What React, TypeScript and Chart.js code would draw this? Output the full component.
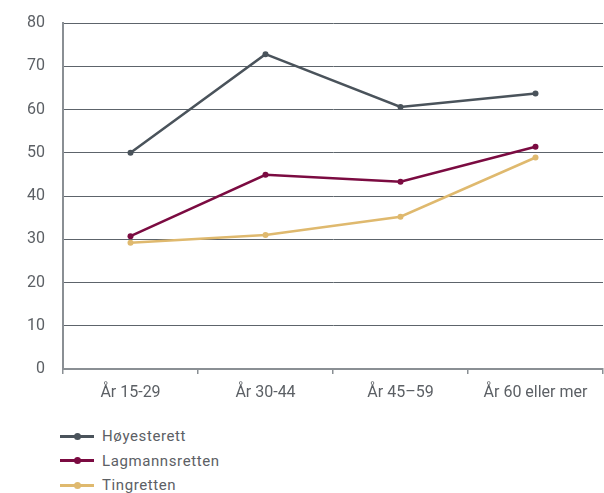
import { useEffect, useRef } from 'react';
import Chart from 'chart.js/auto';

const CATEGORIES = ['År 15-29', 'År 30-44', 'År 45–59', 'År 60 eller mer'];
const HOYESTERETT = [50, 72.8, 60.6, 63.7];
const LAGMANNSRETTEN = [30.7, 44.9, 43.3, 51.4];
const TINGRETTEN = [29.2, 31.0, 35.2, 48.9];
const Y_TICKS = [0, 10, 20, 30, 40, 50, 60, 70, 80];

const SERIES = [
  { label: 'Høyesterett', data: HOYESTERETT, color: '#4a535b' },
  { label: 'Lagmannsretten', data: LAGMANNSRETTEN, color: '#7b0b41' },
  { label: 'Tingretten', data: TINGRETTEN, color: '#dfb96e' }
];

const FONT = 'Roboto, "Noto Sans", sans-serif';
const TEXT = '#5c6065';

export default function App() {
  const canvasRef = useRef<HTMLCanvasElement | null>(null);

  useEffect(() => {
    const canvas = canvasRef.current;
    if (!canvas) return;

    const chart = new Chart(canvas, {
      type: 'line',
      data: {
        labels: CATEGORIES,
        datasets: SERIES.map(s => ({
          label: s.label,
          data: s.data,
          borderColor: s.color,
          backgroundColor: s.color,
          borderWidth: 2.5,
          pointRadius: 3,
          pointBorderWidth: 0,
          tension: 0
        }))
      },
      options: {
        animation: false,
        responsive: true,
        maintainAspectRatio: false,
        layout: { padding: { top: 23, right: 0, left: 0, bottom: 0 } },
        plugins: { legend: { display: false }, tooltip: { enabled: false } },
        scales: {
          x: {
            offset: true,
            grid: {
              offset: true,
              drawOnChartArea: false,
              drawTicks: true,
              tickLength: 5,
              color: '#8a8f94',
              lineWidth: 1.5
            },
            border: { display: true, color: '#8a8f94', width: 2 },
            ticks: { color: TEXT, font: { family: FONT, size: 16 }, padding: 9 },
            afterFit: s => {
              s.height = 41;
            }
          },
          y: {
            min: 0,
            max: 80,
            afterBuildTicks: s => {
              s.ticks = Y_TICKS.map(v => ({ value: v }));
            },
            grid: { color: '#5d646b', lineWidth: 1, drawTicks: true, tickLength: 15, tickColor: 'rgba(0,0,0,0)' },
            border: { display: true, color: '#8a8f94', width: 2 },
            ticks: { color: TEXT, font: { family: FONT, size: 16 }, padding: 3 },
            afterFit: s => {
              s.width = 63;
            }
          }
        }
      }
    });

    return () => chart.destroy();
  }, []);

  return (
    <div style={{ position: 'fixed', left: 0, top: 0, width: 604, height: 493, background: '#fff', fontFamily: FONT, overflow: 'hidden' }}>
      <div style={{ position: 'absolute', left: 0, top: 0, width: 607, height: 410 }}>
        <canvas ref={canvasRef} />
      </div>
      <div style={{ position: 'absolute', left: 60, top: 424 }}>
        {SERIES.map(s => (
          <div key={s.label} style={{ display: 'flex', alignItems: 'center', height: 24.5 }}>
            <span style={{ position: 'relative', width: 34, height: 3, background: s.color, marginRight: 8 }}>
              <span
                style={{
                  position: 'absolute',
                  left: 14,
                  top: -2,
                  width: 7,
                  height: 7,
                  borderRadius: '50%',
                  background: s.color
                }}
              />
            </span>
            <span style={{ color: TEXT, fontSize: 15, letterSpacing: 0.6 }}>{s.label}</span>
          </div>
        ))}
      </div>
    </div>
  );
}
